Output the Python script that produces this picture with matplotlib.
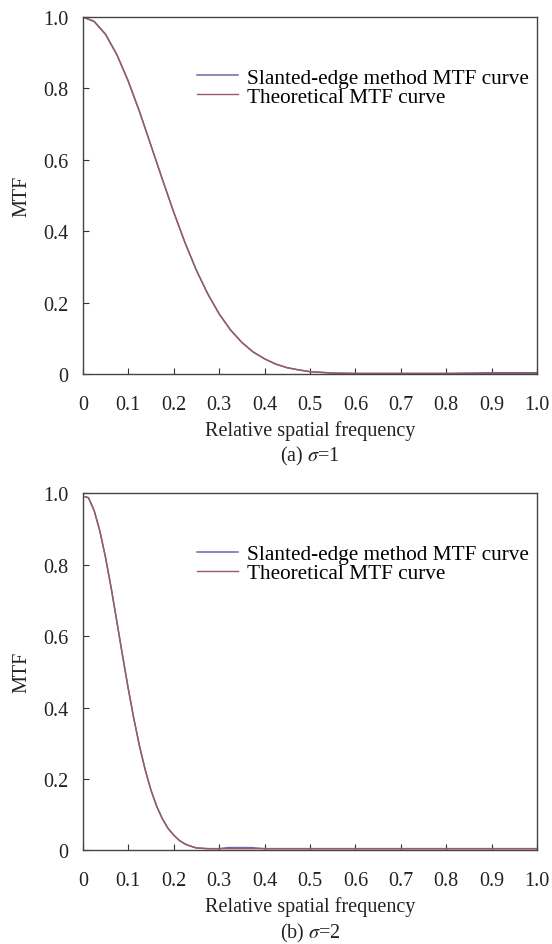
import matplotlib
matplotlib.use('Agg')
import matplotlib.pyplot as plt

plt.rcParams['font.family'] = ['Liberation Serif', 'DejaVu Serif']
plt.rcParams['mathtext.fontset'] = 'stix'

# values
freq_a = [0, 0.025, 0.05, 0.075, 0.1, 0.125, 0.15, 0.175, 0.2, 0.225, 0.25, 0.275,
          0.3, 0.325, 0.35, 0.375, 0.4, 0.425, 0.45, 0.475, 0.5, 0.55, 0.6, 0.7,
          0.8, 0.85, 0.9, 0.95, 1.0]
theory_a = [1.0, 0.988, 0.952, 0.895, 0.821, 0.735, 0.641, 0.546, 0.454, 0.368, 0.291, 0.225,
            0.169, 0.124, 0.089, 0.062, 0.043, 0.028, 0.018, 0.012, 0.007, 0.003, 0.002, 0.002,
            0.002, 0.002, 0.002, 0.002, 0.002]
slanted_a = [1.0, 0.987, 0.951, 0.894, 0.820, 0.734, 0.640, 0.546, 0.454, 0.368, 0.291, 0.225,
             0.169, 0.124, 0.089, 0.062, 0.043, 0.028, 0.018, 0.012, 0.007, 0.003, 0.002, 0.002,
             0.002, 0.003, 0.004, 0.004, 0.004]

freq_b = [0.005, 0.0125, 0.025, 0.0375, 0.05, 0.0625, 0.075, 0.0875, 0.1, 0.1125, 0.125,
          0.1375, 0.15, 0.1625, 0.175, 0.1875, 0.2, 0.2125, 0.225, 0.2375, 0.25, 0.275,
          0.3, 0.32, 0.35, 0.37, 0.4, 0.5, 0.7, 0.9, 1.0]
theory_b = [0.99, 0.988, 0.952, 0.895, 0.821, 0.735, 0.641, 0.546, 0.454, 0.368, 0.291,
            0.225, 0.169, 0.124, 0.089, 0.062, 0.043, 0.028, 0.018, 0.012, 0.007, 0.005,
            0.005, 0.005, 0.005, 0.005, 0.005, 0.005, 0.005, 0.005, 0.005]
slanted_b = [0.99, 0.987, 0.951, 0.894, 0.820, 0.734, 0.640, 0.545, 0.453, 0.368, 0.291,
             0.225, 0.169, 0.124, 0.089, 0.062, 0.043, 0.028, 0.018, 0.012, 0.007, 0.005,
             0.005, 0.008, 0.008, 0.008, 0.005, 0.005, 0.005, 0.005, 0.005]

x_ticks = [0, 0.1, 0.2, 0.3, 0.4, 0.5, 0.6, 0.7, 0.8, 0.9, 1.0]
x_labels = ['0', '0.1', '0.2', '0.3', '0.4', '0.5', '0.6', '0.7', '0.8', '0.9', '1.0']
y_ticks = [0, 0.2, 0.4, 0.6, 0.8, 1.0]
y_labels = ['0', '0.2', '0.4', '0.6', '0.8', '1.0']
captions = ['(a) $\\sigma$=1', '(b) $\\sigma$=2']

fig = plt.figure(figsize=(5.52, 9.45), dpi=100)
ax_a = fig.add_axes([0.150, 0.603, 0.823, 0.378])
ax_b = fig.add_axes([0.150, 0.099, 0.823, 0.378])

fs = 14.5
panels = [(ax_a, freq_a, slanted_a, theory_a), (ax_b, freq_b, slanted_b, theory_b)]
for (ax, f, s, t), cap in zip(panels, captions):
    ax.plot(f, s, color='#6a6aa8', lw=1.1, label='Slanted-edge method MTF curve')
    ax.plot(f, t, color='#9a5a68', lw=1.0, label='Theoretical MTF curve')
    ax.set_xlim(0, 1.0)
    ax.set_ylim(0, 1.0)
    ax.set_xticks(x_ticks)
    ax.set_xticklabels(x_labels)
    ax.set_yticks(y_ticks)
    ax.set_yticklabels(y_labels)
    ax.tick_params(direction='in', length=4, width=0.8, colors='#333333',
                   labelcolor='#222222', labelsize=fs)
    ax.tick_params(axis='x', pad=15)
    ax.tick_params(axis='y', pad=10.5)
    for sp in ax.spines.values():
        sp.set_color('#444444')
        sp.set_linewidth(1.0)
    ax.set_ylabel('MTF', fontsize=fs, color='#222222', labelpad=8)
    ax.set_xlabel('Relative spatial frequency\n' + cap, fontsize=fs,
                  color='#222222', labelpad=4.5, linespacing=1.25)
    ax.legend(loc='upper right', bbox_to_anchor=(0.982, 0.857), frameon=False,
              fontsize=15.3, handlelength=1.95, handletextpad=0.42,
              labelspacing=-0.05, borderpad=0, borderaxespad=0)

fig.savefig('out.png', dpi=100)
